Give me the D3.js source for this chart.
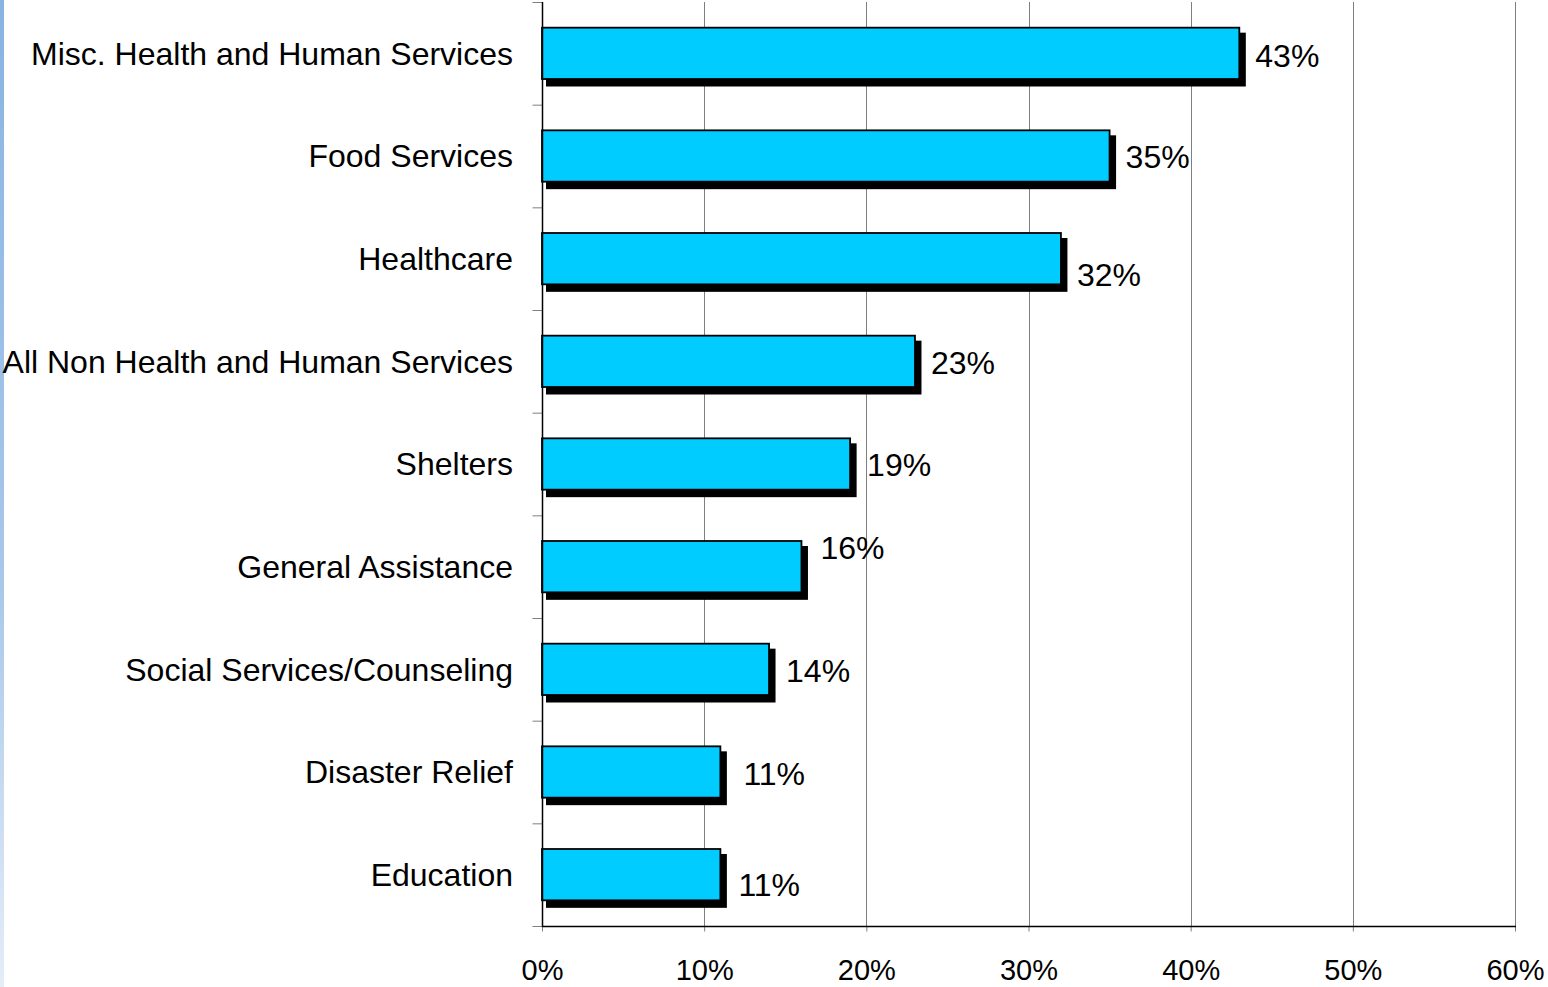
<!DOCTYPE html>
<html>
<head>
<meta charset="utf-8">
<script src="https://cdn.jsdelivr.net/npm/d3@7"></script>
<style>
  html, body { margin: 0; padding: 0; background: #fff; }
  svg { display: block; font-family: "Liberation Sans", Arial, sans-serif; }
</style>
</head>
<body>
<svg id="chart" width="1548" height="987"></svg>
<script>
// Share of organisations by service area
const categories = [
  "Misc. Health and Human Services",
  "Food Services",
  "Healthcare",
  "All Non Health and Human Services",
  "Shelters",
  "General Assistance",
  "Social Services/Counseling",
  "Disaster Relief",
  "Education"
];
const values = [0.43, 0.35, 0.32, 0.23, 0.19, 0.16, 0.14, 0.11, 0.11];
const xTickValues = [0, 0.1, 0.2, 0.3, 0.4, 0.5, 0.6];

// small nudges so value labels clear the gridlines
const labelShift = [[0, 2], [0, 1], [0, 16], [0, 1], [1, 1], [3, -19], [1, 1], [7, 2], [2, 10]];

const W = 1548, H = 987;
const plot = { left: 542, right: 1515, top: 2, bottom: 926 };

const svg = d3.select("#chart");

// faint blue strip on the left edge
const defs = svg.append("defs");
const grad = defs.append("linearGradient")
  .attr("id", "edge").attr("x1", 0).attr("y1", 0).attr("x2", 0).attr("y2", 1);
grad.append("stop").attr("offset", "0%").attr("stop-color", "#88b4e2");
grad.append("stop").attr("offset", "60%").attr("stop-color", "#a9c8ea");
grad.append("stop").attr("offset", "100%").attr("stop-color", "#e4edf8");
svg.append("rect").attr("x", 0).attr("y", 0).attr("width", 4).attr("height", H)
  .attr("fill", "url(#edge)");

const x = d3.scaleLinear().domain([0, 0.6]).range([plot.left, plot.right]);
const y = d3.scaleBand().domain(categories)
  .range([plot.top, plot.bottom]).paddingInner(0.5).paddingOuter(0.25);
const yEdge = d3.scaleLinear().domain([0, categories.length]).range([plot.top, plot.bottom]);

// vertical gridlines
svg.append("g").selectAll("line")
  .data(xTickValues.filter(d => d > 0))
  .join("line")
  .attr("x1", d => Math.round(x(d)) + 0.5).attr("x2", d => Math.round(x(d)) + 0.5)
  .attr("y1", plot.top).attr("y2", plot.bottom)
  .attr("stroke", "#7f7f7f").attr("stroke-width", 1);

// category tick marks on the left axis
const yAxis = d3.axisLeft(yEdge).tickValues(d3.range(0, categories.length + 1))
  .tickSize(10).tickFormat("");
const gy = svg.append("g").attr("transform", `translate(${plot.left + 0.5},0)`).call(yAxis);
gy.selectAll(".tick line").attr("stroke", "#808080");
gy.select(".domain").remove();

// x axis
const xAxis = d3.axisBottom(x).tickValues(xTickValues).tickSize(5)
  .tickFormat(d3.format(".0%")).tickPadding(28);
const gx = svg.append("g").attr("transform", `translate(0,${plot.bottom + 0.5})`).call(xAxis);
gx.select(".domain").remove();
gx.selectAll(".tick line").attr("stroke", "#808080");
gx.selectAll(".tick text").attr("font-size", 29).attr("fill", "#000")
  .attr("font-family", "Liberation Sans, Arial, sans-serif");

// bars: shadow first, then the cyan face
const bars = svg.append("g");
const rows = bars.selectAll("g").data(categories.map((c, i) => ({ c, v: values[i], i }))).join("g");
rows.append("rect")
  .attr("x", plot.left + 4)
  .attr("y", d => y(d.c) + 5)
  .attr("width", d => x(d.v) - plot.left + 2.5)
  .attr("height", y.bandwidth() + 2.5)
  .attr("fill", "#000");
rows.append("rect")
  .attr("x", plot.left)
  .attr("y", d => y(d.c))
  .attr("width", d => x(d.v) - plot.left)
  .attr("height", y.bandwidth())
  .attr("fill", "#00ccff").attr("stroke", "#000").attr("stroke-width", 1.8);

// axis lines
svg.append("line").attr("x1", plot.left + 0.5).attr("x2", plot.left + 0.5)
  .attr("y1", plot.top).attr("y2", plot.bottom + 1).attr("stroke", "#000").attr("stroke-width", 1.5);
svg.append("line").attr("x1", plot.left).attr("x2", plot.right + 1)
  .attr("y1", plot.bottom + 0.5).attr("y2", plot.bottom + 0.5).attr("stroke", "#000").attr("stroke-width", 1.5);

// category labels
svg.append("g").selectAll("text").data(categories).join("text")
  .attr("x", 513)
  .attr("y", d => y(d) + y.bandwidth() / 2)
  .attr("dy", "0.35em")
  .attr("text-anchor", "end")
  .attr("font-size", 32)
  .attr("fill", "#000")
  .text(d => d);

// value labels
svg.append("g").selectAll("text").data(categories.map((c, i) => ({ c, v: values[i], i }))).join("text")
  .attr("x", d => x(d.v) + 16 + labelShift[d.i][0])
  .attr("y", d => y(d.c) + y.bandwidth() / 2 + labelShift[d.i][1])
  .attr("dy", "0.35em")
  .attr("font-size", 32)
  .attr("fill", "#000")
  .text(d => d3.format(".0%")(d.v));
</script>
</body>
</html>
